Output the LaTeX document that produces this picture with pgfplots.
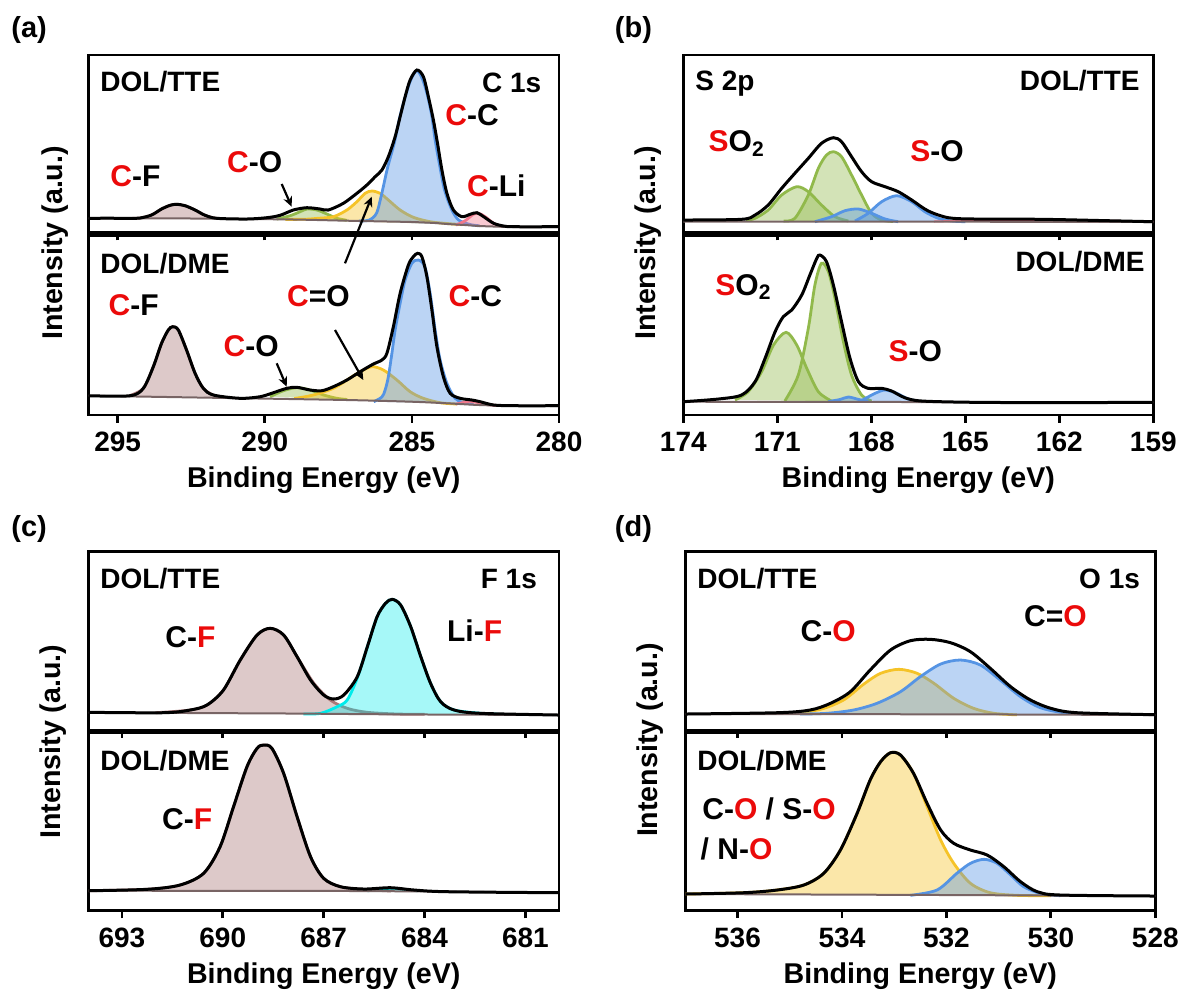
\documentclass[border=0pt]{standalone}
\usepackage{fontspec}
\setmainfont{Liberation Sans}
\usepackage{pgfplots}
\pgfplotsset{compat=1.18}
\usetikzlibrary{arrows.meta}
\definecolor{cblue}{RGB}{85,148,228}
\definecolor{cyel}{RGB}{245,195,40}
\definecolor{cgrn}{RGB}{145,185,75}
\definecolor{cbrn}{RGB}{170,120,120}
\definecolor{ccyn}{RGB}{0,235,235}
\definecolor{cpnk}{RGB}{240,120,140}
\definecolor{cbg}{RGB}{120,100,100}
\definecolor{lred}{RGB}{235,10,10}
\newcommand{\R}[1]{\textcolor{lred}{#1}}
\newcommand{\Fa}{\fontsize{14}{16}\selectfont\bfseries}
\newcommand{\Fb}{\fontsize{15}{17}\selectfont\bfseries}
\newcommand{\Fl}{\fontsize{14.3}{17}\selectfont\bfseries}
\newcommand{\Fp}{\fontsize{14.5}{17}\selectfont\bfseries}
\pgfplotsset{
  xps/.style={scale only axis, anchor=south west, x dir=reverse, y dir=reverse,
    ytick=\empty, axis line style={line width=1.4pt}, tick style={black,line width=1.4pt},
    tick align=outside, major tick length=3.8pt, xtick pos=left,
    /pgf/number format/assume math mode=true, ticklabel style={font=\Fa},
    xticklabel style={anchor=base, yshift=-14.5pt}},
  nolab/.style={xticklabels={}},
  comp/.style={smooth, line width=1.4pt, draw=#1, fill=#1, fill opacity=0.4},
  env/.style={smooth, black, line width=1.5pt},
  bg/.style={smooth, cbg, line width=1pt},
}
\begin{document}
\begin{tikzpicture}[x=0.5pt,y=-0.5pt]
\path[use as bounding box] (0,0) rectangle (1181,993);

% ================= (a) C 1s =================
\begin{axis}[xps, nolab, at={(44.15pt,-116.4pt)}, width=235.35pt, height=88.9pt,
  xmin=280, xmax=296, ymin=55, ymax=232.8, xtick={280,285,290,295}]
\addplot[comp=cbrn] coordinates {(294.5,218.3) (294.24,218) (293.85,215) (293.51,209) (293.22,205.3) (293.0,204.3) (292.71,205.7) (292.37,210) (292.03,215.3) (291.69,218.1) (291.4,218.5)};
\addplot[comp=cgrn] coordinates {(289.6,219.1) (289.14,215.7) (288.80,211.7) (288.57,209) (288.23,210) (287.89,214) (287.55,218.3) (287.21,220.3)};
\addplot[comp=cyel] coordinates {(289.3,219.4) (288.6,219.2) (288.2,218.3) (287.67,216.7) (287.21,210) (286.87,201.7) (286.59,193.3) (286.36,191) (286.08,193.3) (285.80,200) (285.40,210) (284.95,217.3) (284.38,221.7) (283.81,223.5) (283.3,224.6)};
\addplot[comp=cblue] coordinates {(286.8,221) (286.45,220) (286.2,213) (286.02,193) (285.83,168) (285.60,143) (285.42,118) (285.23,97) (285.04,80) (284.83,70.5) (284.63,80) (284.46,96.7) (284.32,116.7) (284.21,140) (284.07,163.3) (283.89,190) (283.64,210) (283.41,220) (283.02,224.5) (282.7,225.8)};
\addplot[comp=cpnk] coordinates {(283.5,225) (283.19,220.7) (282.91,214.3) (282.73,213.3) (282.51,216.7) (282.22,223.3) (281.94,226.5)};
\addplot[bg] coordinates {(296,218.3) (293,218.4) (290.6,219) (289,219.5) (287.2,220.7) (286,221.4) (285,222) (284.2,223) (283.8,224) (283.2,225) (282.7,226) (282,226.7) (281.5,227) (280,227)};
\addplot[env] coordinates {(296,218.5) (295.5,218.2) (294.58,218.3) (294.24,218) (293.85,215) (293.51,209) (293.22,205.3) (293.0,204.3) (292.71,205.7) (292.37,210) (292.03,215.3) (291.63,218.3) (290.61,219) (289.93,217.7) (289.48,215.3) (289.03,210) (288.57,207.7) (288.12,209) (287.84,210) (287.33,203.3) (286.87,193.3) (286.53,185) (286.25,176.7) (286.02,170) (285.80,156.7) (285.57,136.7) (285.40,116.7) (285.23,96.7) (285.06,80) (284.83,70) (284.61,76.7) (284.44,96.7) (284.27,120) (284.13,143.3) (283.98,170) (283.81,193.3) (283.59,210) (283.30,216.7) (283.02,214.3) (282.79,212.7) (282.56,216.7) (282.22,223.3) (281.88,226) (281.54,226.7) (280,226.7)};
\end{axis}
\begin{axis}[xps, at={(44.15pt,-207.5pt)}, width=235.35pt, height=89.9pt,
  xmin=280, xmax=296, ymin=235.2, ymax=415, xtick={280,285,290,295}]
\addplot[comp=cbrn] coordinates {(294.6,395.7) (294.13,388.3) (293.79,366.7) (293.51,343.3) (293.28,330) (293.13,326.7) (292.94,330) (292.66,350) (292.37,373.3) (292.09,388.3) (291.75,395) (291.4,397)};
\addplot[comp=cgrn] coordinates {(289.82,396.7) (289.37,390.7) (288.91,387.7) (288.46,390) (288.0,395) (287.55,398.3) (287.2,399.5)};
\addplot[comp=cyel] coordinates {(289.0,398.5) (288.35,395) (287.67,388.3) (287.21,380) (286.76,371.7) (286.36,366.7) (285.97,370) (285.51,380) (285.06,391.7) (284.61,398.3) (284.04,402.7) (283.47,404)};
\addplot[comp=cblue] coordinates {(286.3,401.7) (286.02,397) (285.91,390) (285.8,376.7) (285.68,353.3) (285.57,330) (285.40,303.3) (285.23,280) (285.0,263.3) (284.78,260) (284.56,266.7) (284.38,293.3) (284.21,330) (284.04,360) (283.81,383.3) (283.53,398.3) (283.25,402.7) (282.9,404)};
\addplot[comp=cpnk] coordinates {(283.5,404) (283.25,402.5) (283.02,401.2) (282.75,402.5) (282.4,404.6) (282.1,405.5)};
\addplot[bg] coordinates {(296,395.7) (290.6,398.3) (287.2,400) (285,401.7) (283.8,403.3) (282.7,405) (281.5,405.8) (280,406)};
\addplot[env] coordinates {(296,395.7) (294.58,395.7) (294.13,388.3) (293.79,366.7) (293.51,343.3) (293.28,330) (293.13,326.7) (292.94,330) (292.66,350) (292.37,373.3) (292.09,388.3) (291.75,395) (290.84,398.3) (290.16,396.7) (289.71,392.7) (289.25,388.3) (288.91,387.3) (288.46,390) (288.06,390.7) (287.67,386.7) (287.21,380) (286.76,371.7) (286.31,364) (286.02,360) (285.85,353.3) (285.63,326.7) (285.40,293.3) (285.12,265) (284.95,256.7) (284.81,253.3) (284.66,256.7) (284.49,276.7) (284.32,310) (284.15,346.7) (283.93,376.7) (283.70,393.3) (283.36,398.3) (282.96,400) (282.68,401.7) (282.22,405) (281.54,405.7) (280,405.7)};
\end{axis}

% ================= (b) S 2p =================
\begin{axis}[xps, nolab, at={(341.65pt,-116.4pt)}, width=235pt, height=88.9pt,
  xmin=159, xmax=174, ymin=55, ymax=232.8, xtick={159,162,165,168,171,174}]
\addplot[comp=cgrn] coordinates {(172.0,220.5) (171.71,218.3) (171.29,210) (170.86,195) (170.38,186.7) (170.01,191.7) (169.59,205) (169.16,216.7) (168.73,221)};
\addplot[comp=cgrn] coordinates {(170.8,221) (170.44,218.3) (170.01,195) (169.69,168.3) (169.43,155) (169.21,151.7) (168.95,156.7) (168.63,175) (168.31,195) (167.99,213.3) (167.67,220) (167.3,221.5)};
\addplot[comp=cblue] coordinates {(169.8,221.7) (169.27,216.7) (168.84,210.7) (168.41,209) (167.99,213.3) (167.56,219) (167.14,221.7)};
\addplot[comp=cblue] coordinates {(168.52,221) (168.1,213.3) (167.67,201.7) (167.19,195.7) (166.71,201.7) (166.29,211.7) (165.86,218.3) (165.44,221) (165.0,221.7)};
\addplot[smooth, cpnk, line width=1pt] coordinates {(166,221.5) (164.5,220.4) (162.5,220.1) (160.5,220.8) (159,221.5)};
\addplot[bg] coordinates {(174,221.5) (168,221.7) (165,221.7) (159,222)};
\addplot[env] coordinates {(174,220) (172.14,219.3) (171.71,215) (171.29,205) (170.86,188.3) (170.44,173.3) (170.01,158.3) (169.59,143.3) (169.21,137.7) (168.95,141.7) (168.63,156.7) (168.31,171.7) (167.99,181.7) (167.56,186.7) (167.14,191.7) (166.71,200) (166.18,211) (165.54,217.7) (164.69,219) (162.56,219.3) (160.44,220.7) (159,221.7)};
\end{axis}
\begin{axis}[xps, at={(341.65pt,-207.5pt)}, width=235pt, height=89.9pt,
  xmin=159, xmax=174, ymin=235.2, ymax=415, xtick={159,162,165,168,171,174}]
\addplot[comp=cgrn] coordinates {(172.35,400) (171.93,391.7) (171.5,371.7) (171.12,345) (170.72,332.3) (170.38,345) (170.06,368.3) (169.69,391.7) (169.27,401)};
\addplot[comp=cgrn] coordinates {(170.76,401) (170.33,375) (170.01,328.3) (169.8,285) (169.59,263.3) (169.37,271.7) (169.16,298.3) (168.89,341.7) (168.63,375) (168.31,395) (167.99,401)};
\addplot[comp=cblue] coordinates {(169.37,401.5) (169.0,399.5) (168.73,397) (168.4,399.5) (168.1,401.5)};
\addplot[comp=cblue] coordinates {(168.31,400.5) (167.88,393.3) (167.56,390) (167.19,393.3) (166.82,399) (166.39,401.7)};
\addplot[bg] coordinates {(174,401.7) (159,402.3)};
\addplot[env] coordinates {(174,401.7) (172.88,399) (172.14,395) (171.71,381.7) (171.39,358.3) (171.07,331.7) (170.81,316.7) (170.54,310) (170.22,295) (169.96,275) (169.74,258.3) (169.64,255) (169.43,261.7) (169.21,285) (168.95,321.7) (168.68,358.3) (168.41,381.7) (168.1,388.3) (167.67,388.3) (167.35,391) (166.93,397.7) (166.39,401) (164.69,402.3) (162,402.6) (159,402.3)};
\end{axis}

% ================= (c) F 1s =================
\begin{axis}[xps, nolab, at={(44.15pt,-365pt)}, width=235.35pt, height=89.15pt,
  xmin=680, xmax=694, ymin=551.7, ymax=730, xtick={681,684,687,690,693}]
\addplot[comp=cbrn] coordinates {(692,712.7) (690.97,710) (690.47,705) (689.98,690) (689.48,660) (688.98,635) (688.59,628.3) (688.19,635) (687.79,656.7) (687.29,683.3) (686.80,700) (686.30,708.3) (685.70,712.3) (684.81,714) (684,714.3)};
\addplot[smooth, line width=1.4pt, draw=ccyn, fill=ccyn, fill opacity=0.35] coordinates {(687.6,714) (687.09,713.3) (686.6,706.7) (686.30,700) (686.0,678) (685.70,646.7) (685.41,616.7) (685.16,603.3) (684.96,599.3) (684.71,605) (684.41,626.7) (684.11,656.7) (683.82,683.3) (683.52,701.7) (683.12,710) (682.33,713.3) (681.8,714.2)};
\addplot[bg] coordinates {(694,712.5) (688,713.5) (685,714.3) (680,715)};
\addplot[env] coordinates {(694,712.3) (691.76,712.7) (690.97,710) (690.47,705) (689.98,690) (689.48,660) (688.98,635) (688.59,628.3) (688.19,635) (687.79,656.7) (687.39,680) (687.0,695) (686.70,699) (686.40,695) (686.0,676.7) (685.70,646.7) (685.41,616.7) (685.16,603.3) (684.96,599.3) (684.71,605) (684.41,626.7) (684.11,656.7) (683.82,683.3) (683.52,701.7) (683.12,710) (682.33,713.3) (680,715)};
\end{axis}
\begin{axis}[xps, at={(44.15pt,-455.35pt)}, width=235.35pt, height=89.15pt,
  xmin=680, xmax=694, ymin=732.4, ymax=910.7, xtick={681,684,687,690,693}]
\addplot[comp=cbrn] coordinates {(694,890.7) (692.26,889.3) (691.27,885) (690.57,873.3) (690.08,846.7) (689.68,806.7) (689.28,766.7) (688.98,748.3) (688.78,745) (688.54,748.3) (688.19,773.3) (687.79,816.7) (687.39,856.7) (687.0,878.3) (686.5,886.7) (685.8,889.5) (685,891)};
\addplot[smooth, line width=1.2pt, draw=ccyn!70!black, fill=ccyn, fill opacity=0.35] coordinates {(685.7,891) (685.3,889.5) (684.96,888.3) (684.6,889.5) (684.2,891)};
\addplot[bg] coordinates {(694,890.7) (686,891) (680,892.7)};
\addplot[env] coordinates {(694,890.7) (692.26,889.3) (691.27,885) (690.57,873.3) (690.08,846.7) (689.68,806.7) (689.28,766.7) (688.98,748.3) (688.78,745) (688.54,748.3) (688.19,773.3) (687.79,816.7) (687.39,856.7) (687.0,878.3) (686.5,886.7) (685.8,889) (685.01,887.7) (684.31,890) (683.32,891.7) (680,892.7)};
\end{axis}

% ================= (d) O 1s =================
\begin{axis}[xps, nolab, at={(342.65pt,-365pt)}, width=235pt, height=89.15pt,
  xmin=528, xmax=537, ymin=551.7, ymax=730, xtick={528,530,532,534,536}]
\addplot[comp=cyel] coordinates {(535.3,713.5) (534.92,713) (534.41,709.3) (533.97,700) (533.58,684) (533.26,673.3) (532.91,669.3) (532.56,673.3) (532.24,683.3) (531.86,698.3) (531.48,708.3) (531.09,713.3) (530.65,714.8)};
\addplot[comp=cblue] coordinates {(534.8,714) (534.29,713.3) (533.78,710) (533.33,703.3) (532.88,691.7) (532.5,676.7) (532.11,664) (531.73,660) (531.35,665) (530.97,680) (530.58,696.7) (530.2,707.7) (529.75,712.7) (529.18,714.5)};
\addplot[bg] coordinates {(537,714) (532,714.3) (528,715)};
\addplot[env] coordinates {(537,714) (535.24,712.7) (534.61,710) (534.22,703.3) (533.84,691.7) (533.46,670) (533.07,650) (532.69,640.7) (532.31,639.3) (531.92,642.7) (531.54,651.7) (531.16,668.3) (530.77,686.7) (530.39,700) (530.0,708.3) (529.5,712.7) (528,714.7)};
\end{axis}
\begin{axis}[xps, at={(342.65pt,-455.25pt)}, width=235pt, height=89.05pt,
  xmin=528, xmax=537, ymin=732.4, ymax=910.5, xtick={528,530,532,534,536}]
\addplot[comp=cyel] coordinates {(537,894) (535.88,892.7) (535.24,890) (534.73,885) (534.35,873.3) (534.03,850) (533.71,813.3) (533.46,780) (533.26,761.7) (533.07,752.7) (532.88,755) (532.63,773.3) (532.37,806.7) (532.11,840) (531.86,863.3) (531.54,883.3) (531.16,892.7) (530.65,895.3) (530,895.7)};
\addplot[comp=cblue] coordinates {(532.69,895.3) (532.18,890) (531.8,873.3) (531.54,863.3) (531.28,859.3) (531.03,863.3) (530.77,875) (530.52,886.7) (530.2,893.3) (529.82,895.7)};
\addplot[bg] coordinates {(537,894) (532,895) (528,896)};
\addplot[env] coordinates {(537,894) (535.88,892.7) (535.24,890) (534.73,885) (534.35,873.3) (534.03,850) (533.71,813.3) (533.46,780) (533.26,761.7) (533.07,752.7) (532.88,755) (532.63,773.3) (532.37,803.3) (532.11,830) (531.86,843.3) (531.54,850) (531.22,855) (530.9,866.7) (530.58,881.7) (530.26,891.7) (529.82,895) (528,896)};
\end{axis}

% ================= annotations =================
\tikzset{lab/.style={inner sep=0pt, font=\Fa}, bond/.style={inner sep=0pt, font=\Fb},
  arr/.style={line width=1.1pt, -{Stealth[length=5pt,width=4.5pt]}}}
% panel letters
\node[lab, font=\Fp, anchor=base west] at (11,37) {(a)};
\node[lab, font=\Fp, anchor=base west] at (614.5,37) {(b)};
\node[lab, font=\Fp, anchor=base west] at (11,536) {(c)};
\node[lab, font=\Fp, anchor=base west] at (614.5,536) {(d)};
% axis labels
\foreach \cx/\by in {323.7/487, 918.3/487, 323.7/983, 920.3/983}
  \node[lab, font=\Fl, anchor=base] at (\cx,\by) {Binding Energy (eV)};
\node[lab, font=\Fl, anchor=base, rotate=90] at (62,243) {Intensity (a.u.)};
\node[lab, font=\Fl, anchor=base, rotate=90] at (655.7,243) {Intensity (a.u.)};
\node[lab, font=\Fl, anchor=base, rotate=90] at (60,741.7) {Intensity (a.u.)};
\node[lab, font=\Fl, anchor=base, rotate=90] at (657.6,740) {Intensity (a.u.)};
% (a)
\node[lab, anchor=base west] at (100,91.7) {DOL/TTE};
\node[lab, anchor=base east] at (541.7,92) {C 1s};
\node[bond, anchor=base west] at (445,125) {\R{C}-C};
\node[bond, anchor=base west] at (226.7,172.7) {\R{C}-O};
\node[bond, anchor=base west] at (110,186.7) {\R{C}-F};
\node[bond, anchor=base west] at (466.7,196.7) {\R{C}-Li};
\node[lab, anchor=base west] at (100,273.3) {DOL/DME};
\node[bond, anchor=base west] at (108.3,315) {\R{C}-F};
\node[bond, anchor=base west] at (286.7,306.7) {\R{C}=O};
\node[bond, anchor=base west] at (448.3,306.7) {\R{C}-C};
\node[bond, anchor=base west] at (223.3,356.7) {\R{C}-O};
\draw[arr] (281.7,184) -- (291.7,206.7);
\draw[arr] (345,263.3) -- (371.7,196.7);
\draw[arr] (335,330) -- (363.3,380);
\draw[arr] (276.7,363.3) -- (286.7,386.7);
% (b)
\node[lab, anchor=base west] at (695,90) {S 2p};
\node[lab, anchor=base east] at (1140,90) {DOL/TTE};
\node[bond, anchor=base west] at (708.3,151.7) {\R{S}O\textsubscript{2}};
\node[bond, anchor=base west] at (910,161.7) {\R{S}-O};
\node[lab, anchor=base east] at (1145,271.7) {DOL/DME};
\node[bond, anchor=base west] at (715,295) {\R{S}O\textsubscript{2}};
\node[bond, anchor=base west] at (888.3,361.7) {\R{S}-O};
% (c)
\node[lab, anchor=base west] at (100,588.3) {DOL/TTE};
\node[lab, anchor=base east] at (537.3,588.3) {F 1s};
\node[bond, anchor=base west] at (165,647.3) {C-\R{F}};
\node[bond, anchor=base west] at (446.7,641.7) {Li-\R{F}};
\node[lab, anchor=base west] at (100,770) {DOL/DME};
\node[bond, anchor=base west] at (161.7,829.3) {C-\R{F}};
% (d)
\node[lab, anchor=base west] at (697,588.3) {DOL/TTE};
\node[lab, anchor=base east] at (1140.3,588.3) {O 1s};
\node[bond, anchor=base west] at (1023.7,626) {C=\R{O}};
\node[bond, anchor=base west] at (800.3,641.7) {C-\R{O}};
\node[lab, anchor=base west] at (697,770) {DOL/DME};
\node[bond, anchor=base west] at (702,819.3) {C-\R{O} / S-\R{O}};
\node[bond, anchor=base west] at (700.3,859.3) {/ N-\R{O}};
\end{tikzpicture}
\end{document}
